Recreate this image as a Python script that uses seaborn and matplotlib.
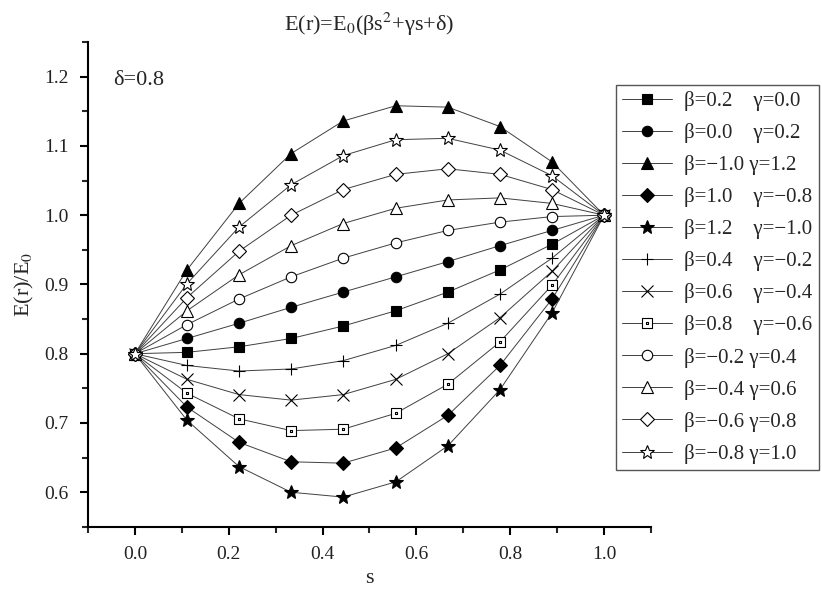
import matplotlib
matplotlib.use("Agg")
import matplotlib.pyplot as plt
import seaborn as sns
import pandas as pd
from matplotlib.path import Path
from matplotlib.ticker import MultipleLocator

sns.set_style("ticks")
plt.rcParams["font.family"] = ["Liberation Serif", "DejaVu Serif"]
plt.rcParams["mathtext.fontset"] = "stix"

# ---- data ----
s = [0.0, 0.111, 0.222, 0.333, 0.444, 0.556, 0.667, 0.778, 0.889, 1.0]

labels = [
    "β=0.2    γ=0.0",
    "β=0.0    γ=0.2",
    "β=−1.0 γ=1.2",
    "β=1.0    γ=−0.8",
    "β=1.2    γ=−1.0",
    "β=0.4    γ=−0.2",
    "β=0.6    γ=−0.4",
    "β=0.8    γ=−0.6",
    "β=−0.2 γ=0.4",
    "β=−0.4 γ=0.6",
    "β=−0.6 γ=0.8",
    "β=−0.8 γ=1.0",
]

e_b02_g00 = [0.800, 0.802, 0.810, 0.822, 0.840, 0.862, 0.889, 0.921, 0.958, 1.000]
e_b00_g02 = [0.800, 0.822, 0.844, 0.867, 0.889, 0.911, 0.933, 0.956, 0.978, 1.000]
e_bm10_g12 = [0.800, 0.921, 1.017, 1.089, 1.136, 1.158, 1.156, 1.128, 1.077, 1.000]
e_b10_gm08 = [0.800, 0.723, 0.672, 0.644, 0.642, 0.664, 0.711, 0.783, 0.879, 1.000]
e_b12_gm10 = [0.800, 0.704, 0.637, 0.600, 0.593, 0.615, 0.667, 0.748, 0.859, 1.000]
e_b04_gm02 = [0.800, 0.783, 0.775, 0.778, 0.790, 0.812, 0.844, 0.886, 0.938, 1.000]
e_b06_gm04 = [0.800, 0.763, 0.741, 0.733, 0.741, 0.763, 0.800, 0.852, 0.919, 1.000]
e_b08_gm06 = [0.800, 0.743, 0.706, 0.689, 0.691, 0.714, 0.756, 0.817, 0.899, 1.000]
e_bm02_g04 = [0.800, 0.842, 0.879, 0.911, 0.938, 0.960, 0.978, 0.990, 0.998, 1.000]
e_bm04_g06 = [0.800, 0.862, 0.914, 0.956, 0.988, 1.010, 1.022, 1.025, 1.017, 1.000]
e_bm06_g08 = [0.800, 0.881, 0.948, 1.000, 1.037, 1.059, 1.067, 1.059, 1.037, 1.000]
e_bm08_g10 = [0.800, 0.901, 0.983, 1.044, 1.086, 1.109, 1.111, 1.094, 1.057, 1.000]

series = [e_b02_g00, e_b00_g02, e_bm10_g12, e_b10_gm08, e_b12_gm10, e_b04_gm02,
          e_b06_gm04, e_b08_gm06, e_bm02_g04, e_bm04_g06, e_bm06_g08, e_bm08_g10]

# open square with a dot in the middle (Origin style)
outer = Path([(-1, -1), (1, -1), (1, 1), (-1, 1), (-1, -1)])
inner = Path([(-0.15, -0.15), (0.15, -0.15), (0.15, 0.15), (-0.15, 0.15), (-0.15, -0.15)])
sq_dot = Path.make_compound_path(outer, inner)

# marker, size, filled
styles = [
    ("s", 7, True), ("o", 7.5, True), ("^", 8.5, True), ("D", 7, True),
    ("*", 10, True), ("+", 8, False), ("x", 8, False), (sq_dot, 7, False),
    ("o", 7.5, False), ("^", 8.5, False), ("D", 7, False), ("*", 10, False),
]

fig = plt.figure(figsize=(8.22, 5.92), dpi=100)
ax = fig.add_axes([0.107, 0.110, 0.685, 0.819])

for lab, vals, (mk, ms, filled) in zip(labels, series, styles):
    df = pd.DataFrame({"s": s, "E": vals})
    sns.lineplot(data=df, x="s", y="E", ax=ax, label=lab, color="#404040",
                 linewidth=0.7, marker=mk, markersize=ms,
                 markerfacecolor="black" if filled else "white",
                 markeredgecolor="black", markeredgewidth=0.8)

ax.set_xlim(-0.1, 1.1)
ax.set_ylim(0.55, 1.25)
ax.xaxis.set_minor_locator(MultipleLocator(0.1))
ax.yaxis.set_major_locator(MultipleLocator(0.1))
ax.yaxis.set_minor_locator(MultipleLocator(0.05))
ax.set_xticks([0.0, 0.2, 0.4, 0.6, 0.8, 1.0])
ax.set_xticklabels(["0.0", "0.2", "0.4", "0.6", "0.8", "1.0"])

sns.despine(ax=ax)
for sp in ("left", "bottom"):
    ax.spines[sp].set_linewidth(1.5)
    ax.spines[sp].set_color("black")
ax.tick_params(which="major", length=6, width=1.5, direction="out",
               labelsize=14, pad=8, colors="black", labelcolor="#222222")
ax.tick_params(which="minor", length=4, width=1.5, direction="out")

ax.set_xlabel("s", fontsize=16, labelpad=4)
ax.set_ylabel("E(r)/E$_0$", fontsize=16, labelpad=6)
ax.set_title("E(r)=E$_0$(βs$^2$+γs+δ)", fontsize=16, pad=8)
ax.text(0.044, 0.92, "δ=0.8", transform=ax.transAxes, fontsize=16,
        ha="left", va="center")

ax.legend(loc="upper left", bbox_to_anchor=(0.749, 0.857),
          bbox_transform=fig.transFigure, fontsize=15, frameon=True,
          fancybox=False, edgecolor="#555555", framealpha=1,
          handlelength=2.4, handletextpad=0.6, labelspacing=0.58,
          borderpad=0.3, borderaxespad=0)

fig.savefig("out.png", dpi=100)
